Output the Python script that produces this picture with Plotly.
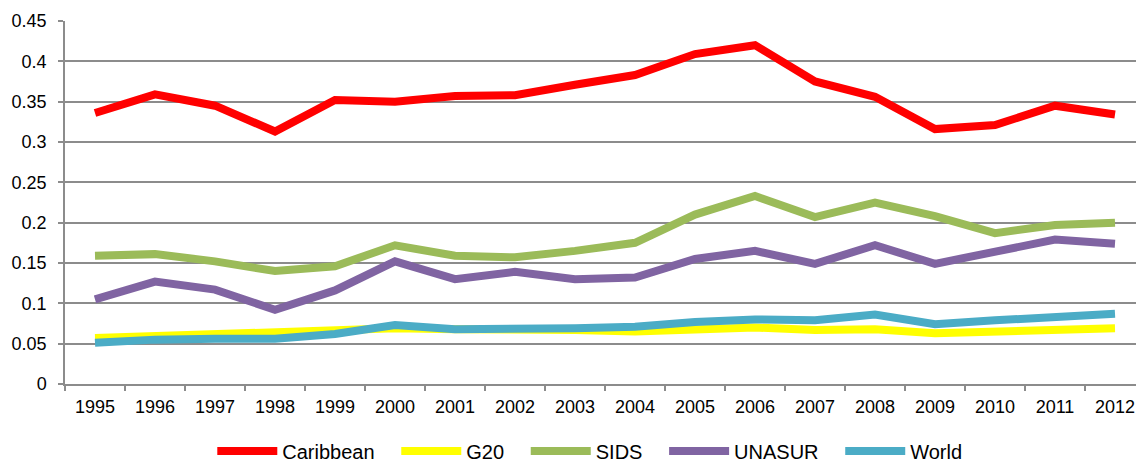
import plotly.graph_objects as go

years = [str(y) for y in range(1995, 2013)]
caribbean = [0.336, 0.359, 0.345, 0.313, 0.352, 0.350, 0.357, 0.358, 0.371, 0.383, 0.409, 0.420, 0.375, 0.356, 0.316, 0.321, 0.345, 0.334]
g20 = [0.057, 0.059, 0.061, 0.063, 0.066, 0.069, 0.068, 0.068, 0.067, 0.065, 0.068, 0.070, 0.067, 0.068, 0.063, 0.065, 0.067, 0.069]
sids = [0.159, 0.161, 0.152, 0.140, 0.146, 0.172, 0.159, 0.157, 0.165, 0.175, 0.210, 0.233, 0.207, 0.225, 0.208, 0.187, 0.197, 0.200]
unasur = [0.105, 0.127, 0.117, 0.092, 0.116, 0.152, 0.130, 0.139, 0.130, 0.132, 0.155, 0.165, 0.149, 0.172, 0.149, 0.165, 0.179, 0.174]
world = [0.051, 0.055, 0.056, 0.056, 0.062, 0.073, 0.068, 0.068, 0.069, 0.071, 0.077, 0.080, 0.079, 0.086, 0.074, 0.079, 0.083, 0.087]

series = [
    ("Caribbean", caribbean, "#FF0000"),
    ("G20", g20, "#FFFF00"),
    ("SIDS", sids, "#9BBB59"),
    ("UNASUR", unasur, "#8064A2"),
    ("World", world, "#4BACC6"),
]

pad = "\u00a0\u00a0\u00a0"
fig = go.Figure()
for i, (name, vals, col) in enumerate(series):
    label = name + (pad if i < len(series) - 1 else "")
    fig.add_trace(go.Scatter(x=years, y=vals, name=label, mode="lines",
                             line=dict(color=col, width=8)))

grid = "#8C8C8C"
fig.update_layout(
    width=1136, height=463,
    margin=dict(l=65, r=0, t=21, b=79),
    paper_bgcolor="white", plot_bgcolor="white",
    font=dict(family="Liberation Sans, Arial, sans-serif", color="black", size=18),
    showlegend=True,
    legend=dict(orientation="h", x=0.49, xanchor="center",
                yref="container", y=0.026, yanchor="middle",
                font=dict(size=20), itemwidth=60, tracegroupgap=0),
    xaxis=dict(type="category", range=[-0.5, 17.35], tickson="boundaries",
               ticks="outside", ticklen=5, tickcolor=grid, tickwidth=1.5,
               showline=True, linecolor=grid, linewidth=1.5, showgrid=False,
               tickfont=dict(size=18), ticklabelstandoff=6,
               automargin=False, fixedrange=True),
    yaxis=dict(range=[0, 0.45], dtick=0.05, tickformat="~g",
               ticks="outside", ticklen=5, tickcolor=grid, tickwidth=1.5,
               showline=True, linecolor=grid, linewidth=1.5,
               showgrid=True, gridcolor=grid, gridwidth=1.5,
               zeroline=False, tickfont=dict(size=18), ticklabelstandoff=8,
               automargin=False),
)
fig.write_html("out.html", config={"displayModeBar": False},
               post_script="document.body.style.margin='0';document.body.style.overflow='hidden';")
